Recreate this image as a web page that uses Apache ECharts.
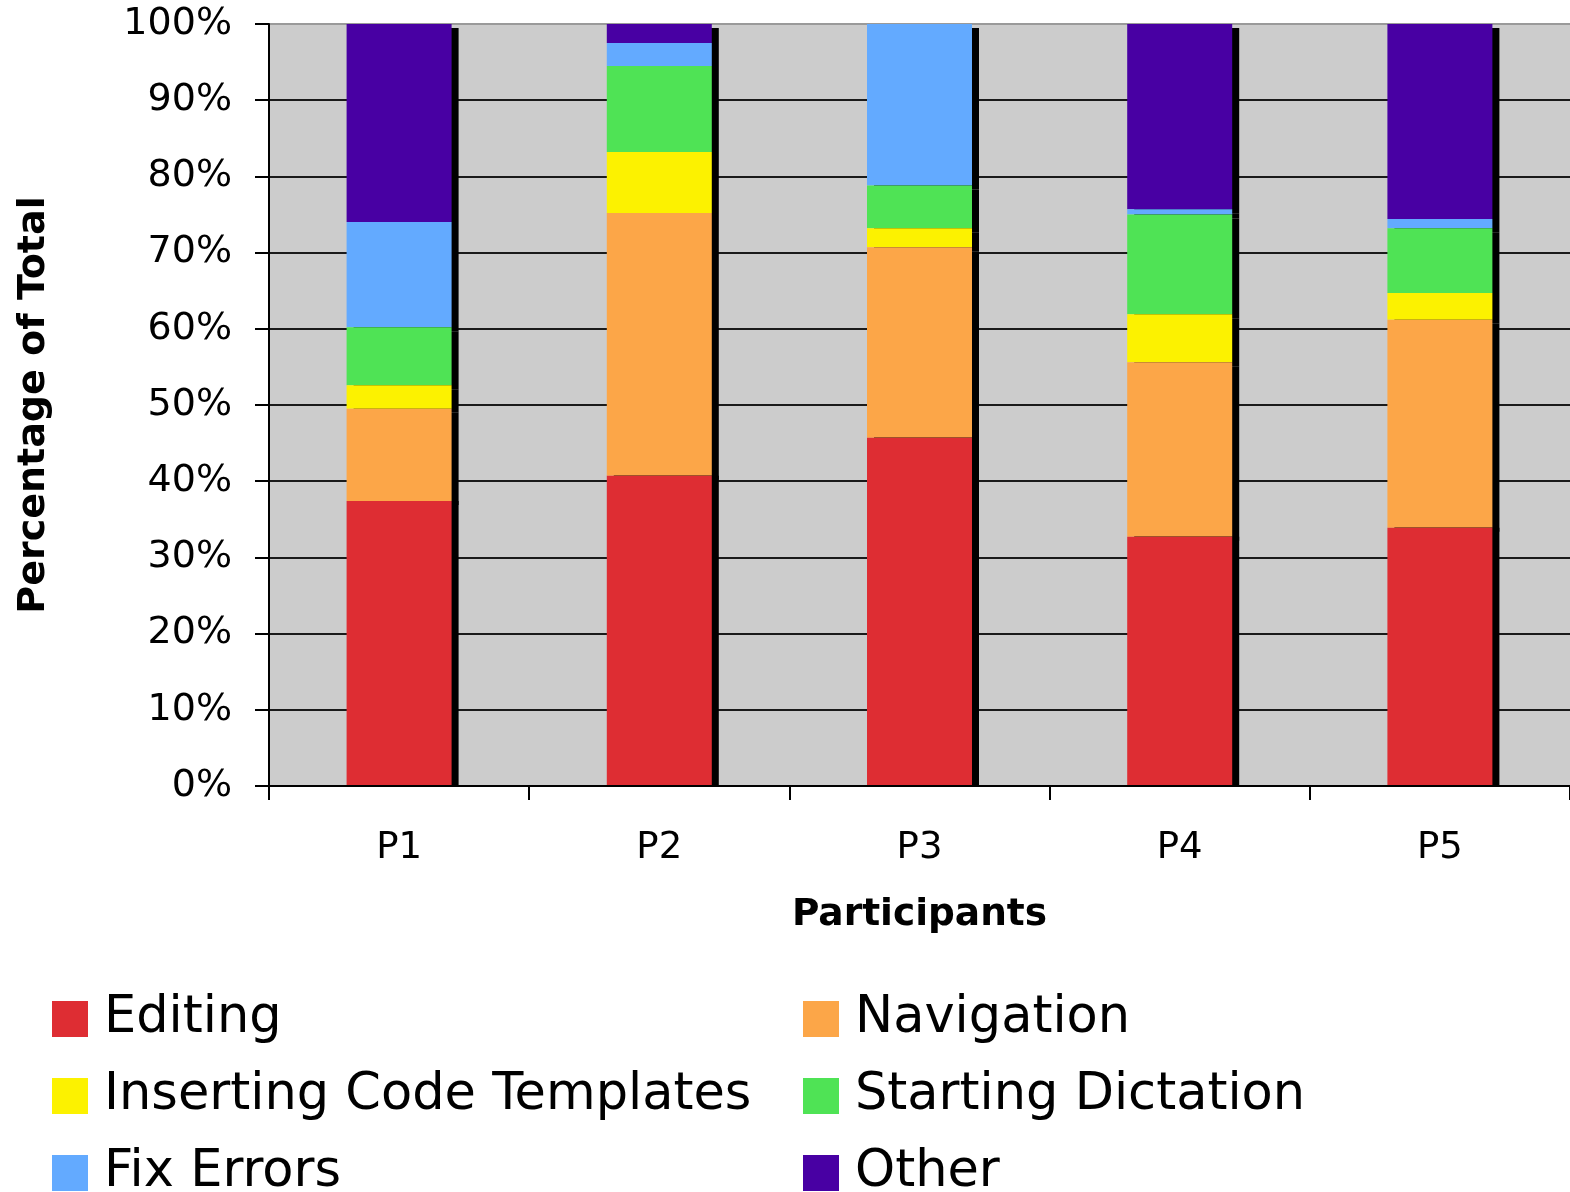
<!DOCTYPE html>
<html>
<head>
<meta charset="utf-8">
<script src="https://cdn.jsdelivr.net/npm/echarts@6/dist/echarts.min.js"></script>
<style>
  html, body { margin: 0; padding: 0; background: #ffffff; }
  #chart { width: 1570px; height: 1192px; }
</style>
</head>
<body>
<div id="chart"></div>
<script>
// Share of time per activity for each participant (percent of total)
const participants = ['P1', 'P2', 'P3', 'P4', 'P5'];
const editing            = [37.4, 40.7, 45.7, 32.7, 33.9];
const navigation         = [12.1, 34.5, 25.0, 22.9, 27.3];
const insertingTemplates = [3.1, 8.0, 2.5, 6.3, 3.5];
const startingDictation  = [7.6, 11.3, 5.6, 13.1, 8.5];
const fixErrors          = [13.8, 3.0, 21.2, 0.7, 1.2];
const other              = [26.0, 2.5, 0.0, 24.3, 25.6];

const activities = [
  { name: 'Editing', data: editing, color: '#de2d33' },
  { name: 'Navigation', data: navigation, color: '#fca648' },
  { name: 'Inserting Code Templates', data: insertingTemplates, color: '#fcf200' },
  { name: 'Starting Dictation', data: startingDictation, color: '#4fe355' },
  { name: 'Fix Errors', data: fixErrors, color: '#63aaff' },
  { name: 'Other', data: other, color: '#4800a3' }
];

const FONT = '"DejaVu Sans", Verdana, sans-serif';

// grid lines: black, except the top edge of the plot which is grey
const splitColors = [];
for (let i = 0; i <= 10; i++) splitColors.push(i === 10 ? '#9a9a9a' : '#1a1a1a');

const chart = echarts.init(document.getElementById('chart'), null, { renderer: 'canvas' });

const legendText = {
  fontFamily: FONT,
  fontSize: 51,
  color: '#000',
  lineHeight: 60,
  padding: [0, 0, 0, 11]
};

function legendColumn(left, names) {
  return {
    orient: 'vertical',
    left: left,
    top: 989,
    height: 260,
    padding: 0,
    itemGap: 17,
    itemWidth: 36,
    itemHeight: 36,
    icon: 'rect',
    selectedMode: false,
    textStyle: legendText,
    data: names
  };
}

chart.setOption({
  animation: false,
  backgroundColor: '#ffffff',
  grid: {
    left: 269,
    top: 24,
    width: 1312,
    height: 762,
    show: true,
    backgroundColor: '#cccccc',
    borderWidth: 0
  },
  legend: [
    legendColumn(52, ['Editing', 'Inserting Code Templates', 'Fix Errors']),
    legendColumn(803, ['Navigation', 'Starting Dictation', 'Other'])
  ],
  xAxis: {
    type: 'category',
    data: participants,
    boundaryGap: true,
    name: 'Participants',
    nameLocation: 'middle',
    nameGap: 110,
    nameTextStyle: { fontFamily: FONT, fontSize: 37.5, fontWeight: 'bold', color: '#000' },
    axisLine: { show: true, lineStyle: { color: '#000', width: 2 } },
    axisTick: { show: true, length: 14, interval: 0, lineStyle: { color: '#000', width: 2 } },
    axisLabel: { fontFamily: FONT, fontSize: 37, color: '#000', margin: 44 },
    splitLine: { show: false },
    z: 10
  },
  yAxis: {
    type: 'value',
    min: 0,
    max: 100,
    interval: 10,
    name: 'Percentage of Total',
    nameLocation: 'middle',
    nameGap: 216,
    nameRotate: 90,
    nameTextStyle: { fontFamily: FONT, fontSize: 38, fontWeight: 'bold', color: '#000' },
    axisLine: { show: true, lineStyle: { color: '#000', width: 2 } },
    axisTick: { show: true, length: 14, lineStyle: { color: '#000', width: 2 } },
    axisLabel: { fontFamily: FONT, fontSize: 38, color: '#000', margin: 37, formatter: '{value}%' },
    splitLine: { show: true, lineStyle: { color: splitColors, width: 2 } }
  },
  series: activities.map((a, i) => ({
    name: a.name,
    type: 'bar',
    stack: 'total',
    data: a.data,
    barWidth: 105,
    z: 8 - i,
    itemStyle: {
      color: a.color,
      borderWidth: 0,
      shadowColor: '#000',
      shadowBlur: 0,
      shadowOffsetX: 7,
      // the bottom segment sits on the axis, so its shadow only goes sideways
      shadowOffsetY: i === 0 ? 0 : 4
    },
    emphasis: { disabled: true }
  }))
});
</script>
</body>
</html>
